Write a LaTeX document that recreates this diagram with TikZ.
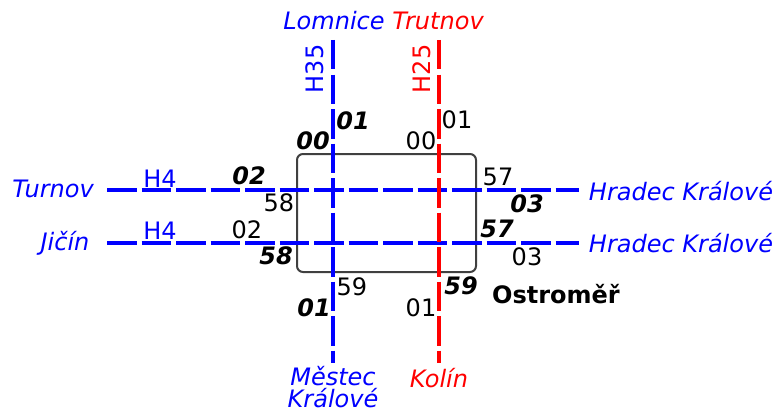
\documentclass[tikz,border=0pt]{standalone}
\usepackage{fontspec}
\setmainfont{DejaVu Sans}
\definecolor{boxgray}{RGB}{64,64,64}
\begin{document}
\begin{tikzpicture}[x=1pt,y=-1pt,
  track/.style={line width=4.3pt, dash pattern=on 29.5pt off 5pt},
  lbl/.style={inner sep=0pt, font=\fontsize{24}{23}\selectfont},
  place/.style={inner sep=0pt, font=\fontsize{24}{23}\selectfont\itshape},
  bi/.style={inner sep=0pt, font=\fontsize{24}{23}\selectfont\bfseries\itshape},
  bold/.style={inner sep=0pt, font=\fontsize{24}{23}\selectfont\bfseries},
]
\useasboundingbox (0,0) rectangle (776,412);
% station box
\node[draw=boxgray, line width=2pt, rounded corners=6pt, minimum width=179pt, minimum height=118pt, inner sep=0pt] (station) at (386.5,213) {};
% track end points
\coordinate (bN) at (333,40);
\coordinate (bS) at (333,363);
\coordinate (rN) at (439,40);
\coordinate (rS) at (439,363);
\coordinate (aW) at (107,190);
\coordinate (aE) at (579,190);
\coordinate (cW) at (107,243);
\coordinate (cE) at (579,243);
% tracks
\draw[track, blue] (aW) -- (aE);
\draw[track, blue] (cW) -- (cE);
\draw[track, blue] (bN) -- (bS);
\draw[track, red] (rN) -- (rS);
% place names
\node[place, blue] (lomnice) at (334,21) {Lomnice};
\node[place, red] (trutnov) at (438,21) {Trutnov};
\node[place, blue] (turnov) at (53,189) {Turnov};
\node[place, blue] (jicin) at (65,243) {Jičín};
\node[place, blue] (hk1) at (681,191) {Hradec Králové};
\node[place, blue] (hk2) at (681,243) {Hradec Králové};
\node[place, blue, align=center, font=\fontsize{24}{22}\selectfont\itshape] (mestec) at (333,387.5) {Městec\\Králové};
\node[place, red] (kolin) at (439,378) {Kolín};
% line numbers
\node[lbl, blue, rotate=90] (h35) at (315,69) {H35};
\node[lbl, red, rotate=90] (h25) at (422,69) {H25};
\node[lbl, blue] (h4a) at (160,179) {H4};
\node[lbl, blue] (h4b) at (160,231) {H4};
% times
\node[bi] (t1) at (353,121) {01};
\node[bi] (t2) at (313,141) {00};
\node[lbl] (t3) at (457,120) {01};
\node[lbl] (t4) at (421,141) {00};
\node[bi] (t5) at (249,176) {02};
\node[lbl] (t6) at (279,203) {58};
\node[lbl] (t7) at (498,177) {57};
\node[bi] (t8) at (527,204) {03};
\node[lbl] (t9) at (247,230) {02};
\node[bi] (t10) at (276,256) {58};
\node[bi] (t11) at (497,229) {57};
\node[lbl] (t12) at (527,257) {03};
\node[lbl] (t13) at (352,287) {59};
\node[bi] (t14) at (314,308) {01};
\node[bi] (t15) at (461,286) {59};
\node[lbl] (t16) at (421,308) {01};
\node[bold] (ostromer) at (556,294) {Ostroměř};
\end{tikzpicture}
\end{document}
